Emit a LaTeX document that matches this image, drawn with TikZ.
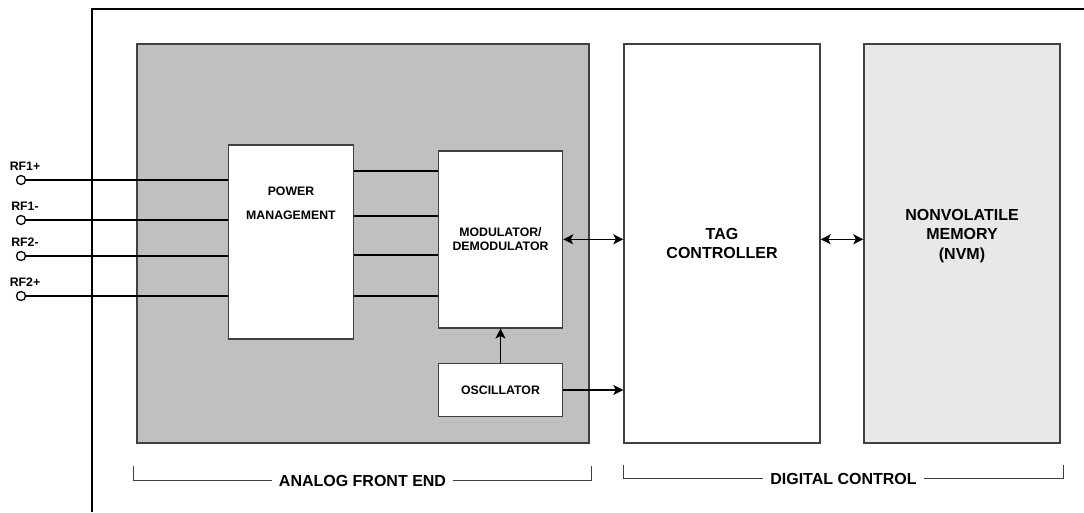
\documentclass[tikz,border=0pt]{standalone}
\usepackage{fontspec}
\setmainfont{Liberation Sans}
\usetikzlibrary{calc}
\usetikzlibrary{arrows.meta}
\definecolor{afegray}{HTML}{C0C0C0}
\definecolor{nvmgray}{HTML}{E8E8E8}
\definecolor{edgegray}{HTML}{404040}
\tikzset{
 blk/.style={draw=edgegray, line width=1.4pt, inner sep=0pt},
 sfont/.style={font=\bfseries\fontsize{12.3}{14.5}\selectfont},
 bfont/.style={font=\bfseries\fontsize{16}{19.7}\selectfont},
 pin/.style={circle, draw, line width=1.3pt, fill=white, inner sep=0pt, minimum size=9pt},
 brk/.style={draw=edgegray, line width=1.4pt},
}
\begin{document}
\begin{tikzpicture}[x=1pt, y=-1pt, line width=1.4pt, >={Stealth[length=10pt, width=10pt, inset=2.5pt]}]
\useasboundingbox (0,0) rectangle (1084,512);
\draw[line width=2.4pt] (92,512) -- (92,9) -- (1084,9);
\node[blk, fill=afegray, minimum width=452pt, minimum height=399pt] (afe) at (363,243.5) {};
\node[blk, fill=white, minimum width=196pt, minimum height=399pt, bfont, align=center] (tag) at (722,243.5) {TAG\\CONTROLLER};
\node[blk, fill=nvmgray, minimum width=196pt, minimum height=399pt,
 label={[bfont, align=center, yshift=7.5pt]center:{NONVOLATILE\\MEMORY\\(NVM)}}] (nvm) at (962,243.5) {};
\node[blk, fill=white, minimum width=125pt, minimum height=194pt] (pm) at (291,242) {};
\node[sfont, align=center] (pmtxt) at (291,203) {POWER\\[9.5pt]MANAGEMENT};
\node[blk, fill=white, minimum width=124pt, minimum height=177pt, sfont, align=center] (mod) at (500.5,239.3) {MODULATOR/\\DEMODULATOR};
\node[blk, fill=white, minimum width=124pt, minimum height=53pt, sfont] (osc) at (500.5,390) {OSCILLATOR};
\foreach \name/\txt/\y in {rf1p/RF1+/180, rf1n/RF1-/220, rf2n/RF2-/256, rf2p/RF2+/296} {
 \node[pin, label={[sfont, xshift=4pt]above:\txt}] (\name) at (21,\y) {};
 \draw (\name) -- (\name -| pm.west);
}
\foreach \y in {171,216,255,296}
 \draw (pm.east |- 0,\y) -- (mod.west |- 0,\y);
\draw[<->] (mod.east) -- (mod.east -| tag.west);
\draw[<->] (tag.east |- mod.east) -- (nvm.west |- mod.east);
\draw[->] (osc.east) -- (osc.east -| tag.west);
\draw[->] (osc.north) -- (mod.south);
\draw[brk] ([xshift=-3pt,yshift=-22pt]afe.south west) -- ++(0,15) -| ([xshift=2pt,yshift=-22pt]afe.south east)
 node[pos=.25, fill=white, inner xsep=7pt, bfont] {ANALOG FRONT END};
\draw[brk] ([yshift=-21pt]tag.south west) -- ++(0,14) -| ([xshift=3pt,yshift=-21pt]nvm.south east)
 node[pos=.25, fill=white, inner xsep=7pt, bfont] {DIGITAL CONTROL};
\end{tikzpicture}
\end{document}
